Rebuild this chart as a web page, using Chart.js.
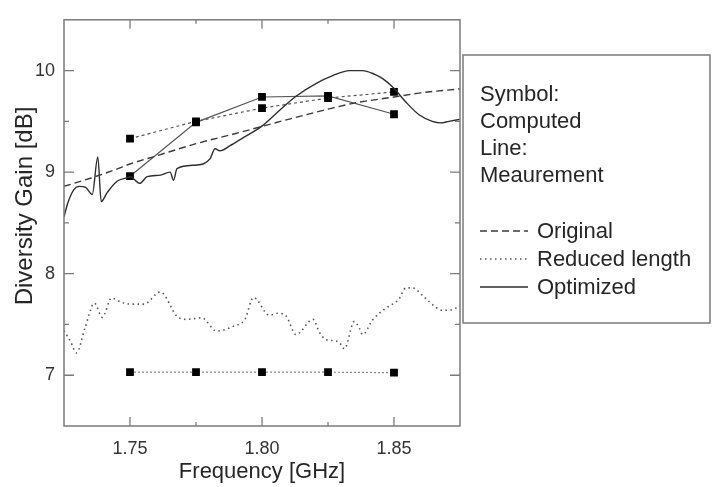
<!DOCTYPE html>
<html>
<head>
<meta charset="utf-8">
<script src="https://cdn.jsdelivr.net/npm/chart.js@4/dist/chart.umd.min.js"></script>
<style>
  html, body { margin: 0; padding: 0; background: #fff; }
  #wrap { width: 713px; height: 487px; }
</style>
</head>
<body>
<div id="wrap"><canvas id="gainChart"></canvas></div>
<script>
// Diversity gain vs frequency
const xTickValues = [1.75, 1.80, 1.85];
const xMinorTicks = [1.775, 1.825];
const yTickValues = [7, 8, 9, 10];
const yMinorTicks = [7.5, 8.5, 9.5];

// computed (symbols)
const freqComputed = [1.75, 1.775, 1.80, 1.825, 1.85];
const gainComputedOriginal = [9.33, 9.50, 9.63, 9.73, 9.79];
const gainComputedReduced = [7.03, 7.03, 7.03, 7.03, 7.025];
const gainComputedOptimized = [8.96, 9.49, 9.74, 9.75, 9.57];

// measured (lines)
const freqMeasOriginal = [1.725, 1.735, 1.745, 1.75, 1.76, 1.775, 1.79, 1.80, 1.81, 1.825, 1.835, 1.85, 1.86, 1.875];
const gainMeasOriginal = [8.86, 8.94, 9.03, 9.08, 9.16, 9.28, 9.38, 9.45, 9.52, 9.62, 9.68, 9.74, 9.78, 9.82];

const freqMeasReduced = [1.725, 1.7275, 1.7297, 1.733, 1.7365, 1.7395, 1.743, 1.7466, 1.7503, 1.7553,
  1.7615, 1.7678, 1.7715, 1.7772, 1.7828, 1.789, 1.7935, 1.7968, 1.8028, 1.806,
  1.8092, 1.8129, 1.8193, 1.8218, 1.8243, 1.8276, 1.8294, 1.8312, 1.835, 1.8369,
  1.8381, 1.8419, 1.8469, 1.8519, 1.8545, 1.857, 1.8614, 1.8658, 1.8683, 1.8708,
  1.8733, 1.875];
const gainMeasReduced = [7.44, 7.33, 7.22, 7.47, 7.71, 7.57, 7.76, 7.72, 7.70, 7.70,
  7.82, 7.58, 7.55, 7.565, 7.435, 7.48, 7.55, 7.765, 7.59, 7.61,
  7.58, 7.40, 7.55, 7.42, 7.35, 7.34, 7.32, 7.26, 7.53, 7.46,
  7.40, 7.545, 7.66, 7.75, 7.86, 7.86, 7.77, 7.67, 7.64, 7.64,
  7.66, 7.68];

const freqMeasOptimized = [1.725, 1.7265, 1.7288, 1.7307, 1.7332, 1.7357, 1.7378, 1.7391, 1.7414, 1.7451,
  1.7489, 1.75, 1.7537, 1.7565, 1.7615, 1.7652, 1.7665, 1.7678, 1.7753, 1.7803,
  1.7822, 1.7841, 1.7879, 1.7929, 1.7998, 1.8067, 1.813, 1.8206, 1.8268, 1.8331,
  1.8381, 1.8425, 1.8457, 1.8498, 1.8545, 1.8595, 1.8645, 1.8677, 1.8708, 1.875];
const gainMeasOptimized = [8.56, 8.70, 8.83, 8.86, 8.85, 8.78, 9.15, 8.71, 8.80, 8.91,
  8.945, 8.955, 8.89, 8.955, 8.97, 9.00, 8.92, 9.035, 9.07, 9.13,
  9.23, 9.21, 9.26, 9.34, 9.45, 9.61, 9.75, 9.875, 9.95, 10.0,
  10.0, 9.965, 9.92, 9.83, 9.69, 9.565, 9.50, 9.485, 9.50, 9.52];

const legendNotes = ['Symbol:', 'Computed', 'Line:', 'Meaurement'];

const FONT = '"Liberation Sans", Arial, sans-serif';
const FRAME = '#7a7a7a';

function pts(xs, ys) {
    return xs.map((x, i) => ({ x: x, y: ys[i] }));
}

function measured(label, xs, ys, dash, color, width) {
    return {
        legendText: label,
        data: pts(xs, ys),
        showLine: true,
        borderColor: color,
        borderWidth: width,
        borderDash: dash,
        pointRadius: 0,
        cubicInterpolationMode: 'monotone'
    };
}

function computed(ys, dash, color) {
    return {
        data: pts(freqComputed, ys),
        showLine: true,
        borderColor: color,
        borderWidth: 1.2,
        borderDash: dash,
        pointStyle: 'rect',
        pointRadius: 5.5,
        pointBorderWidth: 0,
        pointBackgroundColor: '#000',
        pointBorderColor: '#000'
    };
}

// frame, inward ticks, axis titles and the boxed legend
const decorations = {
    id: 'decorations',
    afterDraw(chart) {
        const ctx = chart.ctx;
        const a = chart.chartArea;
        const xs = chart.scales.x, ys = chart.scales.y;
        ctx.save();
        ctx.setLineDash([]);
        ctx.strokeStyle = FRAME;
        ctx.lineWidth = 1.5;
        ctx.strokeRect(a.left, a.top, a.right - a.left, a.bottom - a.top);

        ctx.lineWidth = 1.3;
        const xTick = (v, len) => {
            const px = xs.getPixelForValue(v);
            ctx.beginPath();
            ctx.moveTo(px, a.bottom); ctx.lineTo(px, a.bottom - len);
            ctx.moveTo(px, a.top); ctx.lineTo(px, a.top + len);
            ctx.stroke();
        };
        const yTick = (v, len) => {
            const py = ys.getPixelForValue(v);
            ctx.beginPath();
            ctx.moveTo(a.left, py); ctx.lineTo(a.left + len, py);
            ctx.moveTo(a.right, py); ctx.lineTo(a.right - len, py);
            ctx.stroke();
        };
        xTickValues.forEach(v => xTick(v, 9));
        xMinorTicks.forEach(v => xTick(v, 4));
        yTickValues.forEach(v => yTick(v, 10));
        yMinorTicks.forEach(v => yTick(v, 5));

        // axis titles
        ctx.fillStyle = '#262626';
        ctx.font = '22px ' + FONT;
        ctx.textAlign = 'center';
        ctx.textBaseline = 'alphabetic';
        ctx.fillText('Frequency [GHz]', (a.left + a.right) / 2, 478);

        ctx.save();
        ctx.translate(32, 206);
        ctx.rotate(-Math.PI / 2);
        ctx.font = '24px ' + FONT;
        ctx.fillText('Diversity Gain [dB]', 0, 0);
        ctx.restore();

        // legend box
        const bx = 463, by = 55, bw = 247, bh = 268;
        ctx.fillStyle = '#fff';
        ctx.fillRect(bx, by, bw, bh);
        ctx.strokeStyle = FRAME;
        ctx.lineWidth = 1.5;
        ctx.strokeRect(bx, by, bw, bh);

        ctx.fillStyle = '#262626';
        ctx.font = '22px ' + FONT;
        ctx.textAlign = 'left';
        legendNotes.forEach((t, i) => ctx.fillText(t, 480, 101 + i * 27));

        let row = 0;
        chart.data.datasets.forEach(ds => {
            if (!ds.legendText) return;
            const ly = 231 + row * 28;
            ctx.strokeStyle = ds.borderColor;
            ctx.lineWidth = ds.borderWidth;
            ctx.setLineDash(ds.borderDash || []);
            ctx.beginPath();
            ctx.moveTo(480, ly); ctx.lineTo(528, ly);
            ctx.stroke();
            ctx.setLineDash([]);
            ctx.fillText(ds.legendText, 537, ly + 7);
            row++;
        });
        ctx.restore();
    }
};

const chart = new Chart(document.getElementById('gainChart'), {
    type: 'scatter',
    data: {
        datasets: [
            measured('Original', freqMeasOriginal, gainMeasOriginal, [7, 4], '#3a3a3a', 1.4),
            measured('Reduced length', freqMeasReduced, gainMeasReduced, [1.5, 3.5], '#555', 1.6),
            measured('Optimized', freqMeasOptimized, gainMeasOptimized, [], '#2e2e2e', 1.4),
            computed(gainComputedOriginal, [3, 3], '#555'),
            computed(gainComputedReduced, [2, 2], '#888'),
            computed(gainComputedOptimized, [], '#555')
        ]
    },
    options: {
        responsive: true,
        maintainAspectRatio: false,
        animation: false,
        layout: { padding: { left: 0, top: 11, right: 253, bottom: 0 } },
        plugins: {
            legend: { display: false },
            tooltip: { enabled: false }
        },
        scales: {
            x: {
                type: 'linear',
                min: 1.725,
                max: 1.875,
                afterBuildTicks: s => { s.ticks = xTickValues.map(v => ({ value: v })); },
                afterFit: s => { s.height = 61; },
                grid: { display: false, drawTicks: false },
                border: { display: false },
                ticks: {
                    padding: 12,
                    color: '#333',
                    font: { family: FONT, size: 18 },
                    callback: v => v.toFixed(2)
                }
            },
            y: {
                type: 'linear',
                min: 6.5,
                max: 10.5,
                afterBuildTicks: s => { s.ticks = yTickValues.map(v => ({ value: v })); },
                afterFit: s => { s.width = 64; },
                grid: { display: false, drawTicks: false },
                border: { display: false },
                ticks: {
                    padding: 9,
                    color: '#333',
                    font: { family: FONT, size: 18 },
                    callback: v => String(v)
                }
            }
        }
    },
    plugins: [decorations]
});
</script>
</body>
</html>
